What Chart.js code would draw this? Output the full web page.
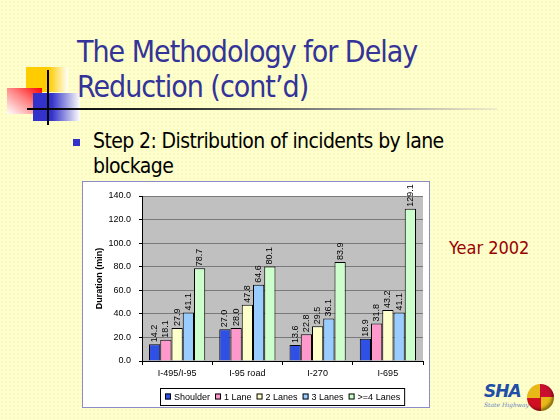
<!DOCTYPE html>
<html>
<head>
<meta charset="utf-8">
<script src="https://cdn.jsdelivr.net/npm/chart.js@4.4.0/dist/chart.umd.min.js"></script>
<style>
  html, body { margin: 0; padding: 0; }
  body {
    width: 560px; height: 420px; position: relative; overflow: hidden;
    background-color: #ffffcc;
    background-image: radial-gradient(#f0f0b8 0.6px, transparent 0.8px);
    background-size: 4px 4px;
    font-family: "DejaVu Sans Condensed", "DejaVu Sans", sans-serif;
  }
  .abs { position: absolute; }
  #title { left: 77px; top: 34px; font-size: 30px; line-height: 35px; letter-spacing: -1px; color: #333399; white-space: nowrap; }
  #rule { left: 27px; top: 108px; width: 470px; height: 2px;
    background: linear-gradient(to right, #000 0%, #333 35%, #999 70%, rgba(200,200,200,0.3) 100%); }
  #sqYellow { left: 26px; top: 67px; width: 42px; height: 25px;
    background: linear-gradient(to right, #ffcc00 0%, #ffcc00 55%, rgba(255,255,255,0.9) 100%); }
  #sqRed { left: 7px; top: 88px; width: 35px; height: 26px;
    background: linear-gradient(to bottom left, #ff0000 0%, #ff8080 45%, #ffffff 100%); }
  #sqBlue { left: 33px; top: 93px; width: 47px; height: 28px;
    background: linear-gradient(to right, #3333cc 0%, #3333cc 40%, rgba(255,255,255,0.9) 100%); }
  #vline { left: 47px; top: 70px; width: 2px; height: 55px; background: #000; }
  #bullet { left: 73px; top: 139px; width: 7px; height: 7px; background: #3333cc; }
  #body { left: 93px; top: 129px; font-size: 21px; line-height: 25px; letter-spacing: -0.6px; color: #000; white-space: nowrap; }
  #year { left: 449px; top: 237px; font-size: 18px; color: #990000; white-space: nowrap; }
  #box { left: 82px; top: 181px; width: 346px; height: 225px; border: 1px solid #8c8cc8; background: #fff; }
  #sha { left: 484px; top: 381px; font: italic bold 17px "DejaVu Sans", sans-serif; color: #1f4fa8; letter-spacing: -1px; }
  #shaSub { left: 484px; top: 401px; font: italic 6px "DejaVu Serif", serif; color: #6a7fbf; }
  #md { left: 527px; top: 384px; width: 27px; height: 27px; border-radius: 50%;
    background: conic-gradient(#c8102e 0 25%, #e8b818 25% 50%, #d01020 50% 75%, #e8b818 75% 100%);
    box-shadow: inset -2px -2px 3px rgba(0,0,0,0.4); }
</style>
</head>
<body>
<div class="abs" id="sqYellow"></div>
<div class="abs" id="sqRed"></div>
<div class="abs" id="sqBlue"></div>
<div class="abs" id="vline"></div>
<div class="abs" id="rule"></div>
<div class="abs" id="title">The Methodology for Delay<br>Reduction (cont’d)</div>
<div class="abs" id="bullet"></div>
<div class="abs" id="body">Step 2: Distribution of incidents by lane<br>blockage</div>
<div class="abs" id="year">Year 2002</div>
<div class="abs" id="box"><canvas id="grafico" width="346" height="225"></canvas></div>
<div class="abs" id="sha">SHA</div>
<div class="abs" id="shaSub">State Highway</div>
<div class="abs" id="md"></div>

<script>
const categorias = ['I-495/I-95', 'I-95 road', 'I-270', 'I-695'];
const shoulder = [14.2, 27.0, 13.6, 18.9];
const lane1 = [18.1, 28.0, 22.8, 31.8];
const lanes2 = [27.9, 47.8, 29.5, 43.2];
const lanes3 = [41.1, 64.6, 36.1, 41.1];
const lanes4 = [78.7, 80.1, 83.9, 129.1];
const yTicks = [0, 20, 40, 60, 80, 100, 120, 140];

const FONTE = '9px "Liberation Sans", Arial, sans-serif';

// fundo cinza da area de plotagem
const fundoPlot = {
    id: 'fundoPlot',
    beforeDraw(chart) {
        const a = chart.chartArea, ctx = chart.ctx;
        ctx.save();
        ctx.fillStyle = '#c0c0c0';
        ctx.fillRect(a.left, a.top, a.right - a.left, a.bottom - a.top);
        ctx.restore();
    }
};

// rotulos verticais acima das barras
const rotulos = {
    id: 'rotulos',
    afterDatasetsDraw(chart) {
        const ctx = chart.ctx;
        ctx.save();
        ctx.font = FONTE;
        ctx.fillStyle = '#000';
        ctx.textAlign = 'left';
        ctx.textBaseline = 'middle';
        chart.data.datasets.forEach(function(ds, i) {
            chart.getDatasetMeta(i).data.forEach(function(el, j) {
                ctx.save();
                ctx.translate(el.x, el.y - 2);
                ctx.rotate(-Math.PI / 2);
                ctx.fillText(ds.data[j].toFixed(1), 0, 0);
                ctx.restore();
            });
        });
        ctx.restore();
    }
};

// legenda com caixa, desenhada a mao
const legendaCaixa = {
    id: 'legendaCaixa',
    afterDraw(chart) {
        const ctx = chart.ctx, a = chart.chartArea;
        ctx.save();
        ctx.font = FONTE;
        const itens = chart.data.datasets.map(function(ds) {
            return { label: ds.label, cor: ds.backgroundColor, w: ctx.measureText(ds.label).width };
        });
        const gap = 5, sq = 6;
        let total = 0;
        itens.forEach(function(it) { total += sq + 3 + it.w; });
        total += gap * (itens.length - 1);
        const cx = (a.left + a.right) / 2;
        let x = Math.round(cx - total / 2);
        const yTop = 206, yBot = 223, yMid = (yTop + yBot) / 2;
        ctx.strokeStyle = '#000';
        ctx.lineWidth = 1;
        ctx.strokeRect(x - 4.5, yTop + 0.5, total + 9, yBot - yTop);
        ctx.textBaseline = 'middle';
        ctx.fillStyle = '#000';
        itens.forEach(function(it) {
            ctx.fillStyle = it.cor;
            ctx.fillRect(x, yMid - 3, sq, sq);
            ctx.strokeRect(x + 0.5, yMid - 2.5, sq - 1, sq - 1);
            ctx.fillStyle = '#000';
            ctx.fillText(it.label, x + sq + 3, yMid + 1);
            x += sq + 3 + it.w + gap;
        });
        ctx.restore();
    }
};

const ctx = document.getElementById('grafico').getContext('2d');
const myChart = new Chart(ctx, {
    type: 'bar',
    data: {
        labels: categorias,
        datasets: [
            { label: 'Shoulder', data: shoulder, backgroundColor: '#2f50e4' },
            { label: '1 Lane', data: lane1, backgroundColor: '#ff99cc' },
            { label: '2 Lanes', data: lanes2, backgroundColor: '#ffffcc' },
            { label: '3 Lanes', data: lanes3, backgroundColor: '#99ccff' },
            { label: '>=4 Lanes', data: lanes4, backgroundColor: '#ccffcc' }
        ].map(function(d) {
            d.borderColor = '#000';
            d.borderWidth = 1;
            d.barPercentage = 1.0;
            d.categoryPercentage = 0.8;
            return d;
        })
    },
    options: {
        responsive: false,
        animation: false,
        layout: { padding: { left: 11, right: 6, top: 14, bottom: 26 } },
        plugins: {
            legend: { display: false },
            tooltip: { enabled: false }
        },
        scales: {
            x: {
                grid: { offset: true, drawOnChartArea: false, tickLength: 4, color: '#000' },
                border: { color: '#000' },
                ticks: { font: { family: '"Liberation Sans", Arial', size: 9 }, color: '#000', padding: 3 },
                afterFit: function(s) { s.height = 20; }
            },
            y: {
                min: 0,
                max: 140,
                afterBuildTicks: function(s) { s.ticks = yTicks.map(function(v) { return { value: v }; }); },
                grid: { color: '#7a7a7a', tickColor: '#000', tickLength: 3 },
                border: { color: '#000' },
                ticks: {
                    font: { family: '"Liberation Sans", Arial', size: 9 }, color: '#000', padding: 8,
                    callback: function(v) { return Number(v).toFixed(1); }
                },
                title: {
                    display: true, text: 'Duration (min)', color: '#000', padding: 0,
                    font: { family: '"Liberation Sans", Arial', size: 9, weight: 'bold' }
                },
                afterFit: function(s) { s.width = 48; }
            }
        }
    },
    plugins: [fundoPlot, rotulos, legendaCaixa]
});
</script>
</body>
</html>
